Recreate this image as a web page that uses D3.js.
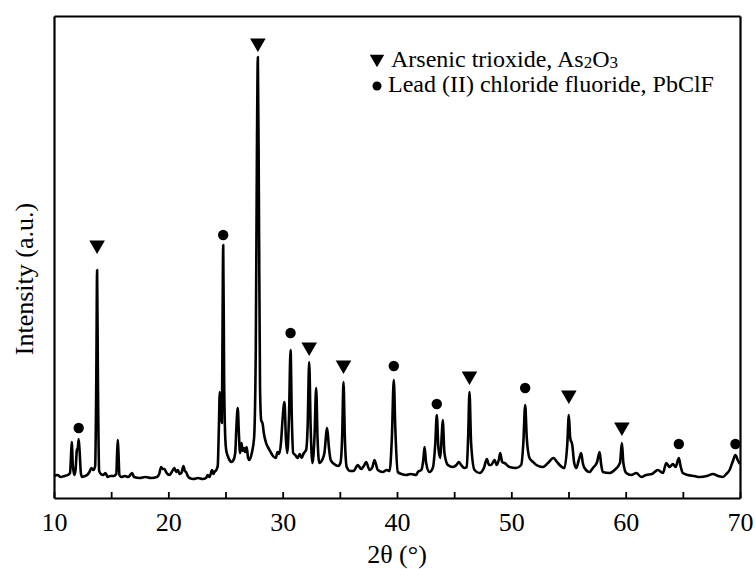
<!DOCTYPE html>
<html>
<head>
<meta charset="utf-8">
<script src="https://cdn.jsdelivr.net/npm/d3@7"></script>
<style>
body { margin: 0; background: #fff; }
text { font-family: "Liberation Serif", "Times New Roman", serif; fill: #000; }
</style>
</head>
<body>
<div id="chart"></div>
<script>
// XRD pattern: 2θ (°) and intensity (a.u.)
const twoTheta = [
  10.0, 10.3, 10.6, 10.9, 11.2, 11.4, 11.48, 11.55, 11.65, 11.78, 11.9, 12.0, 12.08, 12.16, 12.25, 12.35, 12.46,
  12.7, 12.9, 13.1, 13.27, 13.45, 13.6, 13.7, 13.77, 13.84, 13.95, 14.1, 14.3, 14.5, 14.7, 14.9, 15.2, 15.45,
  15.52, 15.58, 15.64, 15.72, 15.9, 16.2, 16.5, 16.83, 17.0, 17.5, 18.0, 18.5, 19.0, 19.2, 19.37, 19.5, 19.66,
  19.85, 20.1, 20.3, 20.53, 20.68, 20.83, 21.0, 21.15, 21.32, 21.45, 21.55, 21.7, 21.85, 22.2, 22.6, 23.0, 23.3,
  23.45, 23.6, 23.83, 23.95, 24.03, 24.2, 24.32, 24.42, 24.5, 24.6, 24.68, 24.73, 24.8, 24.88, 24.98, 25.06,
  25.2, 25.35, 25.5, 25.7, 25.85, 25.95, 26.07, 26.17, 26.27, 26.4, 26.5, 26.63, 26.72, 26.85, 26.98, 27.1,
  27.3, 27.5, 27.65, 27.75, 27.83, 27.92, 28.02, 28.12, 28.25, 28.35, 28.55, 28.85, 29.15, 29.4, 29.55, 29.7,
  29.85, 30.0, 30.16, 30.28, 30.4, 30.55, 30.69, 30.8, 30.92, 31.1, 31.3, 31.5, 31.65, 31.85, 32.05, 32.18,
  32.32, 32.45, 32.6, 32.78, 32.93, 33.05, 33.2, 33.45, 33.65, 33.89, 34.05, 34.2, 34.5, 34.85, 35.05, 35.2,
  35.32, 35.44, 35.6, 35.9, 36.2, 36.57, 36.87, 37.1, 37.3, 37.6, 37.85, 38.03, 38.32, 38.76, 39.1, 39.35,
  39.55, 39.72, 39.85, 40.07, 40.4, 40.8, 41.2, 41.68, 41.82, 42.12, 42.3, 42.41, 42.55, 42.84, 43.13, 43.35,
  43.48, 43.62, 43.78, 43.9, 44.0, 44.15, 44.45, 44.88, 45.2, 45.41, 45.61, 45.9, 46.1, 46.22, 46.34, 46.48,
  46.78, 47.22, 47.6, 47.86, 48.05, 48.24, 48.53, 48.73, 48.9, 49.03, 49.2, 49.41, 49.84, 50.43, 50.86, 51.05,
  51.21, 51.35, 51.59, 51.9, 52.18, 52.76, 53.2, 53.69, 54.0, 54.22, 54.65, 54.9, 55.03, 55.15, 55.33, 55.5,
  55.68, 55.9, 56.11, 56.25, 56.4, 56.84, 57.13, 57.5, 57.72, 57.85, 58.0, 58.59, 59.03, 59.5, 59.67, 59.8,
  60.05, 60.49, 60.93, 61.37, 61.8, 62.3, 62.82, 63.26, 63.55, 63.84, 64.13, 64.37, 64.65, 64.8, 65.0, 65.44,
  66.0, 66.47, 67.1, 67.63, 68.1, 68.5, 68.8, 69.09, 69.35, 69.6, 69.8, 70.0
];
const intensity = [
  22, 23, 21, 22, 23, 25, 40, 56, 32, 23, 30, 48, 50, 59, 45, 25, 21,
  22, 23, 26, 30, 28, 32, 120, 228, 120, 27, 24, 23, 25, 21, 22, 22, 24,
  45, 58, 45, 23, 21, 22, 21, 25, 21, 20, 21, 20, 21, 24, 31, 29, 29,
  25, 23, 26, 30, 26, 28, 24, 25, 32, 27, 26, 22, 20, 19, 20, 19, 20,
  23, 21, 28, 24, 26, 28, 32, 70, 106, 85, 75, 150, 253, 120, 60, 48,
  42, 38, 36, 38, 45, 70, 90, 65, 45, 55, 47, 50, 46, 51, 40, 38,
  45, 60, 150, 350, 441, 300, 110, 78, 74, 65, 55, 48, 42, 40, 46, 44,
  55, 80, 96, 60, 45, 80, 148, 80, 45, 43, 40, 44, 40, 45, 48, 70,
  136, 70, 35, 60, 110, 60, 35, 38, 45, 70, 50, 38, 34, 32, 35, 60,
  116, 60, 31, 27, 27, 33, 29, 32, 36, 28, 31, 38, 28, 26, 28, 27,
  60, 118, 70, 26, 24, 23, 24, 23, 26, 28, 38, 51, 35, 26, 30, 55,
  83, 50, 40, 60, 78, 45, 33, 31, 33, 36, 33, 30, 31, 60, 106, 55,
  28, 25, 30, 39, 33, 33, 38, 33, 38, 45, 36, 35, 31, 30, 33, 55,
  93, 60, 40, 36, 33, 31, 35, 40, 36, 33, 30, 55, 83, 60, 53, 35,
  30, 38, 45, 35, 30, 26, 30, 36, 46, 34, 26, 25, 28, 35, 55, 35,
  25, 23, 25, 21, 23, 24, 28, 25, 35, 31, 34, 31, 40, 32, 25, 23,
  22, 21, 22, 24, 22, 21, 24, 28, 36, 43, 38, 34
];

// peak markers: As2O3 (triangles) and PbClF (dots), position and marker height
const as2o3Peaks = [13.77, 27.83, 32.32, 35.32, 46.34, 55.03, 59.67];
const as2o3MarkY = [253, 455, 151, 133, 122, 103, 71];
const pbclfPeaks = [12.16, 24.8, 30.69, 39.72, 43.48, 51.21, 64.65, 69.6];
const pbclfMarkY = [70, 263, 165, 132, 94, 110, 54, 54];

const xTicks = [10, 15, 20, 25, 30, 35, 40, 45, 50, 55, 60, 65, 70];
const xTickLabels = ["10", "", "20", "", "30", "", "40", "", "50", "", "60", "", "70"];

const W = 755, H = 569;
const mLeft = 54, mRight = 740, mTop = 16, mBottom = 498;

const svg = d3.select("#chart").append("svg")
  .attr("width", W)
  .attr("height", H);

const x = d3.scaleLinear().domain([10, 70]).range([mLeft, mRight]);
const y = d3.scaleLinear().domain([0, 482]).range([mBottom, mTop]);

// the pattern
const pts = twoTheta.map((t, i) => [t, intensity[i]]);
svg.append("path")
  .datum(pts)
  .attr("fill", "none")
  .attr("stroke", "#000")
  .attr("stroke-width", 2.6)
  .attr("stroke-linejoin", "round")
  .attr("d", d3.line().x(d => x(d[0])).y(d => y(d[1])).curve(d3.curveMonotoneX));

// frame
const xAxis = d3.axisBottom(x)
  .tickValues(xTicks)
  .tickSizeInner(-6)
  .tickSizeOuter(0)
  .tickPadding(15)
  .tickFormat((d, i) => xTickLabels[i]);

const gx = svg.append("g")
  .attr("transform", `translate(0,${mBottom})`)
  .call(xAxis);
gx.select(".domain").attr("stroke-width", 2.2);
gx.selectAll(".tick line").attr("stroke-width", 1.8);
gx.selectAll(".tick text")
  .attr("font-family", "Liberation Serif")
  .attr("font-size", 26);

svg.append("g")
  .attr("transform", `translate(${mLeft},0)`)
  .call(d3.axisLeft(y).tickValues([]).tickSizeOuter(0))
  .select(".domain").attr("stroke-width", 2.2);
svg.append("g")
  .attr("transform", `translate(${mRight},0)`)
  .call(d3.axisRight(y).tickValues([]).tickSizeOuter(0))
  .select(".domain").attr("stroke-width", 2.2);
svg.append("g")
  .attr("transform", `translate(0,${mTop})`)
  .call(d3.axisTop(x).tickValues([]).tickSizeOuter(0))
  .select(".domain").attr("stroke-width", 2.2);

// axis titles
svg.append("text")
  .attr("x", (mLeft + mRight) / 2)
  .attr("y", 563)
  .attr("text-anchor", "middle")
  .attr("font-size", 26)
  .text("2θ (°)");

svg.append("text")
  .attr("transform", `translate(33,${(mTop + mBottom) / 2 + 22}) rotate(-90)`)
  .attr("text-anchor", "middle")
  .attr("font-size", 26)
  .text("Intensity (a.u.)");

// peak markers
const tri = d3.symbol().type(d3.symbolTriangle).size(105);
svg.selectAll(".tri")
  .data(as2o3Peaks)
  .join("path")
  .attr("class", "tri")
  .attr("d", tri)
  .attr("transform", (d, i) => `translate(${x(d)},${y(as2o3MarkY[i])}) rotate(180)`)
  .attr("fill", "#000");

svg.selectAll(".dot")
  .data(pbclfPeaks)
  .join("circle")
  .attr("class", "dot")
  .attr("cx", d => x(d))
  .attr("cy", (d, i) => y(pbclfMarkY[i]))
  .attr("r", 5.2)
  .attr("fill", "#000");

// legend
const lg = svg.append("g").attr("transform", "translate(377,0)");
lg.append("path")
  .attr("d", d3.symbol().type(d3.symbolTriangle).size(90))
  .attr("transform", "translate(0,59) rotate(180)");
lg.append("circle").attr("cx", 0).attr("cy", 86).attr("r", 4.5);

const t1 = lg.append("text").attr("x", 14).attr("y", 66.5).attr("font-size", 24);
t1.append("tspan").text("Arsenic trioxide, As");
t1.append("tspan").attr("font-size", 17).attr("dy", 1).text("2");
t1.append("tspan").attr("dy", -1).text("O");
t1.append("tspan").attr("font-size", 17).attr("dy", 1).text("3");

lg.append("text").attr("x", 11).attr("y", 92).attr("font-size", 24)
  .text("Lead (II) chloride fluoride, PbClF");
</script>
</body>
</html>
